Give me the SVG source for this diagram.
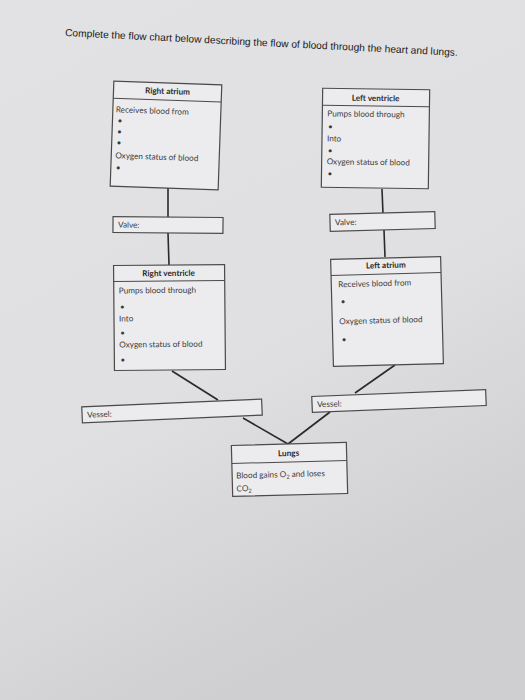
<svg xmlns="http://www.w3.org/2000/svg" width="525" height="700" viewBox="0 0 525 700">
<defs>
<linearGradient id="paper" x1="0" y1="0" x2="0.4" y2="1">
<stop offset="0" stop-color="#e2e1e3"/>
<stop offset="0.6" stop-color="#e0dfe1"/>
<stop offset="1" stop-color="#cfcfd1"/>
</linearGradient>
<style>
.box{fill:#ececee;stroke:#4a4a4a;stroke-width:1.2}
.hl{stroke:#4a4a4a;stroke-width:1}
.t{font-family:Lato,"Open Sans",sans-serif;font-size:8.2px;fill:#3a3a3a}
.h{font-family:Lato,"Open Sans",sans-serif;font-size:8.2px;font-weight:bold;fill:#2a2a2a;text-anchor:middle}
.c{stroke:#2a2a2a;stroke-width:1.6;fill:none}
</style>
</defs>
<rect width="525" height="700" fill="url(#paper)"/>
<text x="65" y="36" transform="rotate(2.9 65 36)" font-family="Liberation Sans, Arial, sans-serif" font-size="10.2" fill="#1a1a1a">Complete the flow chart below describing the flow of blood through the heart and lungs.</text>

<g id="connectors">
<line class="c" x1="168" y1="188" x2="168" y2="217"/>
<line class="c" x1="168" y1="233" x2="169" y2="265"/>
<line class="c" x1="382" y1="189" x2="383" y2="214"/>
<line class="c" x1="384" y1="230" x2="385" y2="257"/>
<line class="c" x1="172" y1="371" x2="218" y2="400"/>
<line class="c" x1="243" y1="418" x2="288" y2="444"/>
<line class="c" x1="395" y1="365" x2="355" y2="393"/>
<line class="c" x1="330" y1="412" x2="288" y2="444"/>
</g>

<g id="right-atrium" transform="rotate(2 166 135)">
<rect class="box" x="112" y="83" width="108" height="105"/>
<line class="hl" x1="112" y1="100" x2="220" y2="100"/>
<text class="h" x="166" y="94">Right atrium</text>
<text class="t" x="115" y="114">Receives blood from</text>
<text class="t" x="117" y="125">•</text>
<text class="t" x="117" y="136">•</text>
<text class="t" x="117" y="147">•</text>
<text class="t" x="116" y="160">Oxygen status of blood</text>
<text class="t" x="117" y="172">•</text>
</g>

<g id="left-ventricle" transform="rotate(0.8 375 138)">
<rect class="box" x="322" y="89" width="107" height="99"/>
<line class="hl" x1="322" y1="106" x2="429" y2="106"/>
<text class="h" x="375" y="101">Left ventricle</text>
<text class="t" x="327" y="117">Pumps blood through</text>
<text class="t" x="328" y="130">•</text>
<text class="t" x="327" y="142">Into</text>
<text class="t" x="328" y="154">•</text>
<text class="t" x="327" y="165">Oxygen status of blood</text>
<text class="t" x="328" y="177">•</text>
</g>

<g id="valve-left" transform="rotate(0.5 168 225)">
<rect class="box" x="113" y="217" width="110" height="16"/>
<text class="t" x="118" y="228">Valve:</text>
</g>

<g id="valve-right" transform="rotate(-1.6 382 221)">
<rect class="box" x="330" y="213" width="105" height="17"/>
<text class="t" x="335" y="224">Valve:</text>
</g>

<g id="right-ventricle" transform="rotate(-0.5 170 317)">
<rect class="box" x="114" y="265" width="111" height="105"/>
<line class="hl" x1="114" y1="281" x2="225" y2="281"/>
<text class="h" x="169" y="276">Right ventricle</text>
<text class="t" x="119" y="293">Pumps blood through</text>
<text class="t" x="120" y="309">•</text>
<text class="t" x="119" y="321">Into</text>
<text class="t" x="120" y="335">•</text>
<text class="t" x="119" y="347">Oxygen status of blood</text>
<text class="t" x="120" y="362">•</text>
</g>

<g id="left-atrium" transform="rotate(-1.5 387 311)">
<rect class="box" x="332" y="258" width="110" height="107"/>
<line class="hl" x1="332" y1="274" x2="442" y2="274"/>
<text class="h" x="387" y="268">Left atrium</text>
<text class="t" x="339" y="286">Receives blood from</text>
<text class="t" x="341" y="303">•</text>
<text class="t" x="339" y="323">Oxygen status of blood</text>
<text class="t" x="341" y="341">•</text>
</g>

<g id="vessel-left" transform="rotate(-2.5 172 411)">
<rect class="box" x="82" y="403" width="180" height="16"/>
<text class="t" x="87" y="414">Vessel:</text>
</g>

<g id="vessel-right" transform="rotate(-2.3 399 401)">
<rect class="box" x="312" y="393" width="174" height="16"/>
<text class="t" x="317" y="404">Vessel:</text>
</g>

<g id="lungs" transform="rotate(-1.5 289 469)">
<rect class="box" x="232" y="444" width="115" height="51"/>
<line class="hl" x1="232" y1="462" x2="347" y2="462"/>
<text class="h" x="289" y="456">Lungs</text>
<text class="t" x="236" y="477">Blood gains O<tspan font-size="5.5" dy="1.8">2</tspan><tspan dy="-1.8"> and loses</tspan></text>
<text class="t" x="236" y="490">CO<tspan font-size="5.5" dy="1.8">2</tspan></text>
</g>
</svg>
